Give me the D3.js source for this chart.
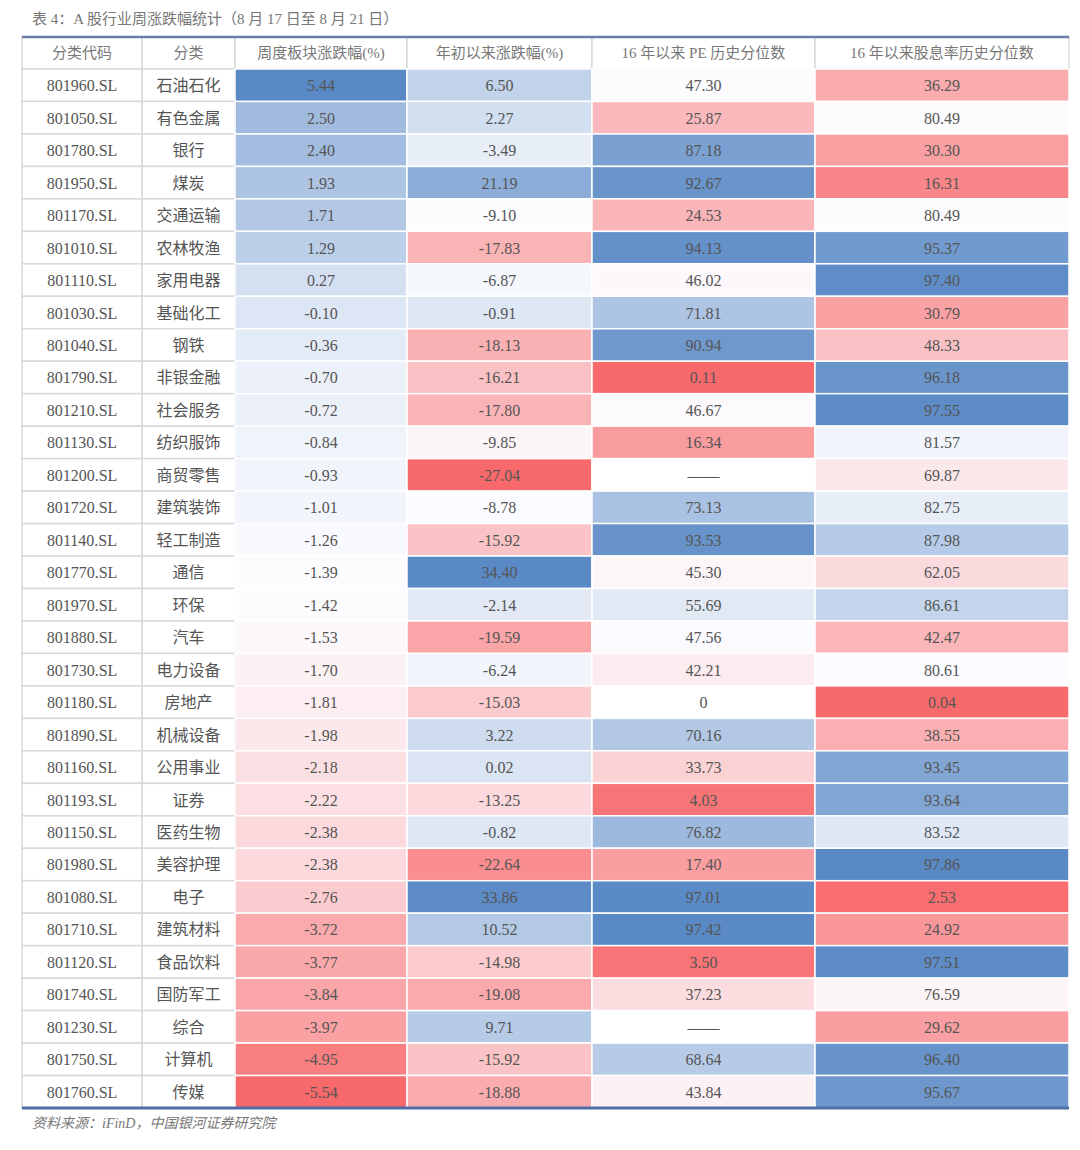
<!DOCTYPE html>
<html><head><meta charset="utf-8">
<script src="https://cdn.jsdelivr.net/npm/d3@7"></script>
<style>body{margin:0;background:#fff}</style>
</head><body><div id="chart"></div>
<script>
const codes = ["801960.SL","801050.SL","801780.SL","801950.SL","801170.SL","801010.SL","801110.SL","801030.SL","801040.SL","801790.SL","801210.SL","801130.SL","801200.SL","801720.SL","801140.SL","801770.SL","801970.SL","801880.SL","801730.SL","801180.SL","801890.SL","801160.SL","801193.SL","801150.SL","801980.SL","801080.SL","801710.SL","801120.SL","801740.SL","801230.SL","801750.SL","801760.SL"];
const names = ["石油石化","有色金属","银行","煤炭","交通运输","农林牧渔","家用电器","基础化工","钢铁","非银金融","社会服务","纺织服饰","商贸零售","建筑装饰","轻工制造","通信","环保","汽车","电力设备","房地产","机械设备","公用事业","证券","医药生物","美容护理","电子","建筑材料","食品饮料","国防军工","综合","计算机","传媒"];
const weekly = [5.44,2.50,2.40,1.93,1.71,1.29,0.27,-0.10,-0.36,-0.70,-0.72,-0.84,-0.93,-1.01,-1.26,-1.39,-1.42,-1.53,-1.70,-1.81,-1.98,-2.18,-2.22,-2.38,-2.38,-2.76,-3.72,-3.77,-3.84,-3.97,-4.95,-5.54];
const ytd = [6.50,2.27,-3.49,21.19,-9.10,-17.83,-6.87,-0.91,-18.13,-16.21,-17.80,-9.85,-27.04,-8.78,-15.92,34.40,-2.14,-19.59,-6.24,-15.03,3.22,0.02,-13.25,-0.82,-22.64,33.86,10.52,-14.98,-19.08,9.71,-15.92,-18.88];
const pePct = [47.30,25.87,87.18,92.67,24.53,94.13,46.02,71.81,90.94,0.11,46.67,16.34,null,73.13,93.53,45.30,55.69,47.56,42.21,"0",70.16,33.73,4.03,76.82,17.40,97.01,97.42,3.50,37.23,null,68.64,43.84];
const divPct = [36.29,80.49,30.30,16.31,80.49,95.37,97.40,30.79,48.33,96.18,97.55,81.57,69.87,82.75,87.98,62.05,86.61,42.47,80.61,0.04,38.55,93.45,93.64,83.52,97.86,2.53,24.92,97.51,76.59,29.62,96.40,95.67];
const headers = ["分类代码","分类","周度板块涨跌幅(%)","年初以来涨跌幅(%)","16 年以来 PE 历史分位数","16 年以来股息率历史分位数"];
const colEdges = [22,142,235,407,592,815,1069];

const W = 1080, H = 1150, tableTop = 37, headH = 32;
const svg = d3.select("#chart").append("svg").attr("width", W).attr("height", H)
  .style("font-family", "'Liberation Serif','Noto Sans CJK SC',serif");

const y = d3.scaleBand().domain(d3.range(codes.length)).range([tableTop + headH, 1108]);

svg.append("text").attr("x", 32).attr("y", 24).attr("fill", "#777").attr("font-size", 15)
  .text("表 4：A 股行业周涨跌幅统计（8 月 17 日至 8 月 21 日）");

function colorFor(vals) {
  const nums = vals.filter(v => typeof v === "number");
  const sc = d3.scaleLinear().domain([d3.min(nums), d3.median(nums), d3.max(nums)])
    .range(["#f8696b", "#fcfcff", "#5a8ac6"]);
  return v => typeof v === "number" ? sc(v) : "#fff";
}
const dataCols = [weekly, ytd, pePct, divPct];
const colorScales = dataCols.map(colorFor);

// header
headers.forEach((h, i) => {
  svg.append("rect").attr("x", colEdges[i]).attr("y", tableTop).attr("width", colEdges[i+1]-colEdges[i])
    .attr("height", headH).attr("fill", "#fff").attr("stroke", "#d8d8de").attr("stroke-width", 1.5);
  svg.append("text").attr("x", (colEdges[i]+colEdges[i+1])/2).attr("y", tableTop + headH/2 + 5)
    .attr("text-anchor", "middle").attr("font-size", 15).attr("fill", "#777").text(h);
});

codes.forEach((c, r) => {
  const cells = [c, names[r], weekly[r], ytd[r], pePct[r], divPct[r]];
  cells.forEach((v, i) => {
    const fill = i < 2 ? "#fff" : colorScales[i-2](v);
    svg.append("rect").attr("x", colEdges[i]).attr("y", y(r)).attr("width", colEdges[i+1]-colEdges[i])
      .attr("height", y.bandwidth()).attr("fill", fill)
      .attr("stroke", i < 2 ? "#d8d8de" : "#fff").attr("stroke-width", 1.5);
    let t = v === null ? "——" : (typeof v === "number" ? v.toFixed(2) : v);
    svg.append("text").attr("x", (colEdges[i]+colEdges[i+1])/2).attr("y", y(r) + y.bandwidth()/2 + 6)
      .attr("text-anchor", "middle").attr("font-size", 16).attr("fill", "#555").text(t);
  });
});

svg.append("line").attr("x1", 22).attr("x2", 1069).attr("y1", tableTop).attr("y2", tableTop)
  .attr("stroke", "#6b7ea8").attr("stroke-width", 2.5);
svg.append("line").attr("x1", 22).attr("x2", 1069).attr("y1", 1108).attr("y2", 1108)
  .attr("stroke", "#4f6ea8").attr("stroke-width", 3);

svg.append("text").attr("x", 32).attr("y", 1128).attr("fill", "#777").attr("font-size", 14)
  .attr("font-style", "italic").text("资料来源：iFinD，中国银河证券研究院");
</script></body></html>
